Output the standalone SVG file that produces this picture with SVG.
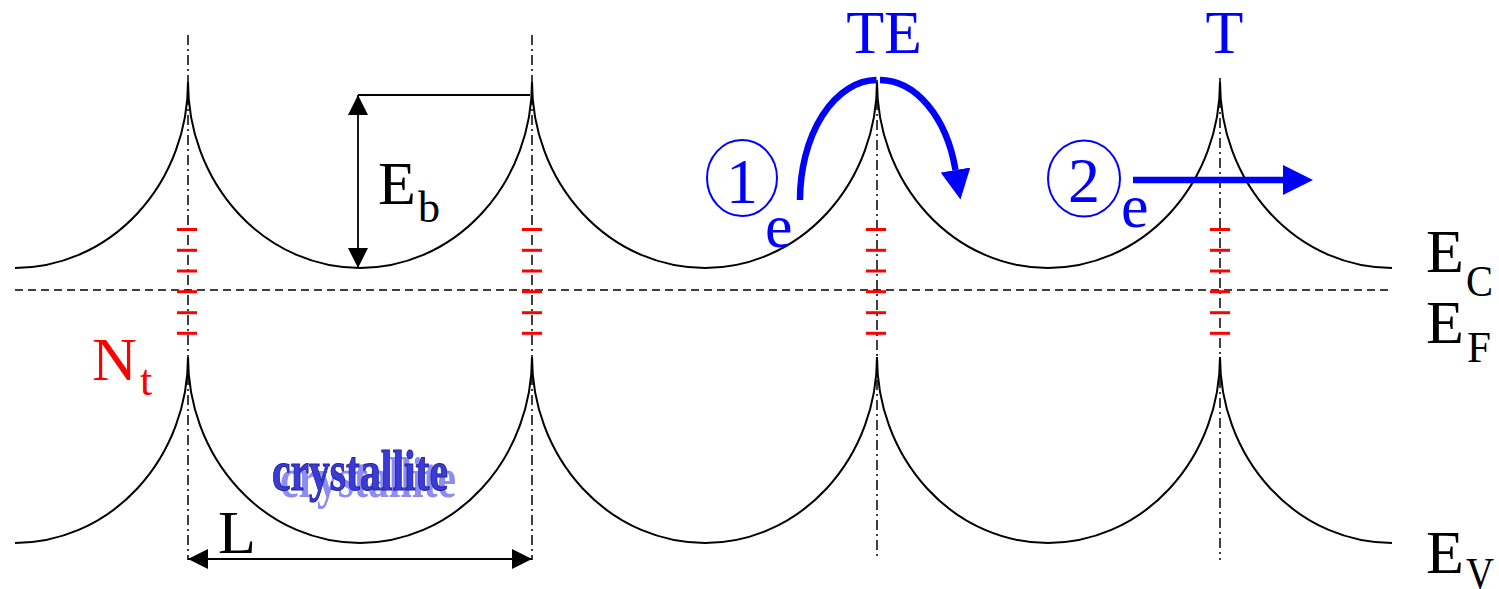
<svg xmlns="http://www.w3.org/2000/svg" width="1499" height="589" viewBox="0 0 1499 589" font-family="Liberation Serif, Times New Roman, DejaVu Serif, serif">
<style>
.band{fill:none;stroke:#000;stroke-width:2}
.gb{fill:none;stroke:#000;stroke-width:1.5;stroke-dasharray:10 4 2 4}
.ef{fill:none;stroke:#000;stroke-width:1.5;stroke-dasharray:8 5}
.trap{stroke:#ff0000;stroke-width:3}
.dim{fill:none;stroke:#000;stroke-width:1.8}
.big{font-size:62px}
.sub{font-size:44px}
.blue{fill:#0000ff}
.barrow{fill:none;stroke:#0000ff;stroke-width:6.5}
</style>
<defs>
<marker id="ah" markerUnits="userSpaceOnUse" markerWidth="20" markerHeight="20" refX="20" refY="10" orient="auto-start-reverse" viewBox="0 0 20 20">
<path d="M0,0 L20,10 L0,20 z" fill="#000"/>
</marker>
<marker id="bh" markerUnits="userSpaceOnUse" markerWidth="30" markerHeight="30" refX="0" refY="15" orient="auto" viewBox="0 0 30 30">
<path d="M0,0 L30,15 L0,30 z" fill="#0000ff"/>
</marker>
</defs>

<g id="boundaries">
<line class="gb" x1="188" y1="35" x2="188" y2="560"/>
<line class="gb" x1="532" y1="35" x2="532" y2="560"/>
<line class="gb" x1="877" y1="80" x2="877" y2="560"/>
<line class="gb" x1="1220" y1="78" x2="1220" y2="560"/>
</g>

<g id="conduction-band">
<path class="band" d="M15,268 A173,186 0 0 0 188,82 A172,186 0 0 0 360,268 A172,186 0 0 0 532,82 A173,186 0 0 0 705,268 A172,186 0 0 0 877,82 A171,186 0 0 0 1048,268 A172,186 0 0 0 1220,82 A172,186 0 0 0 1392,268"/>
</g>

<g id="valence-band">
<path class="band" d="M15,543 A173,186 0 0 0 188,357 A172,186 0 0 0 360,543 A172,186 0 0 0 532,357 A173,186 0 0 0 705,543 A172,186 0 0 0 877,357 A171,186 0 0 0 1048,543 A172,186 0 0 0 1220,357 A172,186 0 0 0 1392,543"/>
</g>

<g id="fermi-level">
<line class="ef" x1="15" y1="290" x2="1392" y2="290"/>
</g>

<g id="traps">
<g id="traps-1">
<line class="trap" x1="177" y1="229.5" x2="197" y2="229.5"/>
<line class="trap" x1="177" y1="250.3" x2="197" y2="250.3"/>
<line class="trap" x1="177" y1="271" x2="197" y2="271"/>
<line class="trap" x1="177" y1="291.7" x2="197" y2="291.7"/>
<line class="trap" x1="177" y1="312.7" x2="197" y2="312.7"/>
<line class="trap" x1="177" y1="333.3" x2="197" y2="333.3"/>
</g>
<g id="traps-2">
<line class="trap" x1="522" y1="229.5" x2="542" y2="229.5"/>
<line class="trap" x1="522" y1="250.3" x2="542" y2="250.3"/>
<line class="trap" x1="522" y1="271" x2="542" y2="271"/>
<line class="trap" x1="522" y1="291.7" x2="542" y2="291.7"/>
<line class="trap" x1="522" y1="312.7" x2="542" y2="312.7"/>
<line class="trap" x1="522" y1="333.3" x2="542" y2="333.3"/>
</g>
<g id="traps-3">
<line class="trap" x1="866" y1="229.5" x2="886" y2="229.5"/>
<line class="trap" x1="866" y1="250.3" x2="886" y2="250.3"/>
<line class="trap" x1="866" y1="271" x2="886" y2="271"/>
<line class="trap" x1="866" y1="291.7" x2="886" y2="291.7"/>
<line class="trap" x1="866" y1="312.7" x2="886" y2="312.7"/>
<line class="trap" x1="866" y1="333.3" x2="886" y2="333.3"/>
</g>
<g id="traps-4">
<line class="trap" x1="1210" y1="229.5" x2="1230" y2="229.5"/>
<line class="trap" x1="1210" y1="250.3" x2="1230" y2="250.3"/>
<line class="trap" x1="1210" y1="271" x2="1230" y2="271"/>
<line class="trap" x1="1210" y1="291.7" x2="1230" y2="291.7"/>
<line class="trap" x1="1210" y1="312.7" x2="1230" y2="312.7"/>
<line class="trap" x1="1210" y1="333.3" x2="1230" y2="333.3"/>
</g>
</g>

<g id="connectors">
<line class="dim" x1="358" y1="95" x2="530" y2="95"/>
<line class="dim" x1="358" y1="95" x2="358" y2="268" marker-start="url(#ah)" marker-end="url(#ah)"/>
<line class="dim" x1="188" y1="559" x2="532" y2="559" marker-start="url(#ah)" marker-end="url(#ah)"/>
<path class="barrow" d="M800,200 A77,120 0 0 1 876.5,80"/>
<path class="barrow" d="M880,80 A78,120 0 0 1 955.5,170" marker-end="url(#bh)"/>
<line class="barrow" x1="1133" y1="180" x2="1283" y2="180" marker-end="url(#bh)"/>
</g>

<g id="label-Eb">
<text class="big" x="378" y="204">E</text>
<text class="sub" x="418" y="222">b</text>
</g>

<g id="label-Nt" fill="#ff0000">
<text class="big" x="92" y="380">N</text>
<text class="sub" x="140" y="395">t</text>
</g>

<g id="label-crystallite">
<text x="280" y="497" font-size="56" font-weight="bold" textLength="176" lengthAdjust="spacingAndGlyphs" fill="#8c8cf2">crystallite</text>
<text x="272" y="490" font-size="56" font-weight="bold" textLength="176" lengthAdjust="spacingAndGlyphs" fill="#3b3bd6" stroke="#1e1e9a" stroke-width="1">crystallite</text>
</g>

<g id="label-L">
<text class="big" x="218" y="553">L</text>
</g>

<g id="label-TE">
<text class="big blue" x="884" y="53" text-anchor="middle">TE</text>
</g>

<g id="label-T">
<text class="big blue" x="1224.5" y="53" text-anchor="middle">T</text>
</g>

<g id="label-1">
<ellipse cx="742" cy="178" rx="35" ry="38" fill="none" stroke="#0000ff" stroke-width="2"/>
<text class="blue" x="742" y="203" font-size="64" text-anchor="middle">1</text>
<text class="big blue" x="765" y="247">e</text>
</g>

<g id="label-2">
<ellipse cx="1084" cy="178.5" rx="36" ry="38" fill="none" stroke="#0000ff" stroke-width="2"/>
<text class="blue" x="1084" y="202" font-size="64" text-anchor="middle">2</text>
<text class="big blue" x="1121" y="227">e</text>
</g>

<g id="label-EC">
<text class="big" x="1426" y="272">E</text>
<text class="sub" x="1466" y="296" textLength="27" lengthAdjust="spacingAndGlyphs">C</text>
</g>

<g id="label-EF">
<text class="big" x="1426" y="343">E</text>
<text class="sub" x="1467" y="362" textLength="24" lengthAdjust="spacingAndGlyphs">F</text>
</g>

<g id="label-EV">
<text class="big" x="1426" y="573">E</text>
<text class="sub" x="1466" y="588" textLength="28" lengthAdjust="spacingAndGlyphs">V</text>
</g>
</svg>
